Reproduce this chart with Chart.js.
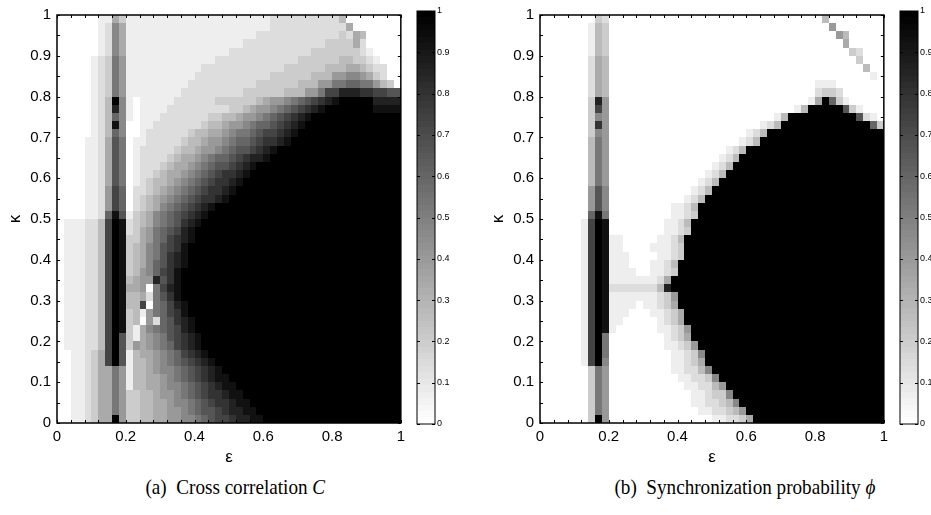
<!DOCTYPE html>
<html><head><meta charset="utf-8">
<script src="https://cdn.jsdelivr.net/npm/chart.js@4.4.0/dist/chart.umd.min.js"></script>
<style>
body{margin:0;background:#fff;width:931px;height:515px;overflow:hidden;position:relative;}
canvas{position:absolute;}
.cap{position:absolute;top:474px;text-align:center;font-family:'Liberation Serif','DejaVu Serif',serif;font-size:22px;color:#000;white-space:nowrap;}
.cap span{display:inline-block;transform:scaleX(0.87);}
</style></head>
<body>
<canvas id="hmA" width="410" height="470" style="left:0px;top:0px"></canvas>
<canvas id="cbA" width="50" height="440" style="left:412px;top:0px"></canvas>
<canvas id="hmB" width="410" height="470" style="left:483px;top:0px"></canvas>
<canvas id="cbB" width="50" height="440" style="left:895px;top:0px"></canvas>
<div class="cap" style="left:0px;width:470px"><span>(a)&nbsp; Cross correlation <i>C</i></span></div>
<div class="cap" style="left:560px;width:370px"><span>(b)&nbsp; Synchronization probability <i>ϕ</i></span></div>
<script>
// ---------- data ----------
const epsCenters = [0.01,0.03,0.05,0.07,0.09,0.11,0.13,0.15,0.17,0.19,0.21,0.23,0.25,0.27,0.29,0.31,0.33,0.35,0.37,0.39,0.41,0.43,0.45,0.47,0.49,0.51,0.53,0.55,0.57,0.59,0.61,0.63,0.65,0.67,0.69,0.71,0.73,0.75,0.77,0.79,0.81,0.83,0.85,0.87,0.89,0.91,0.93,0.95,0.97,0.99];
const kappaCenters = [0.99,0.97,0.95,0.93,0.91,0.89,0.87,0.85,0.83,0.81,0.79,0.77,0.75,0.73,0.71,0.69,0.67,0.65,0.63,0.61,0.59,0.57,0.55,0.53,0.51,0.49,0.47,0.45,0.43,0.41,0.39,0.37,0.35,0.33,0.31,0.29,0.27,0.25,0.23,0.21,0.19,0.17,0.15,0.13,0.11,0.09,0.07,0.05,0.03,0.01];

// gray levels 0..f (value = level/15), run-length coded: "c*n" = n copies, "c*" = fill row
const crossCorrelationRows = [
"0000001 153 1 1*20 2*10 4 0*",
"0000001 275 1 1*20 2*10 2 5 0*",
"0000001 275 1 1*18 2*12 3254 0*",
"0000001 275 1 1*16 2*12 3333 52 0*",
"0000001 275 1 1*14 2*12 3*7 21 0*",
"0000012 386 1 1*12 2*12 3*6 44 3321 0*",
"0000012 386 1 1*10 2*12 3*6 444 55 4322 00",
"0000012 386 1 1*9 2*11 3*6 444 66 77 6532 00",
"0000012 386 1 1*8 2*10 3*6 444 66 88 99 886430",
"0000012 386 1 1*7 2*9 3*6 444 66 8 bb ddd cc bb aa",
"0000012 4f7 1 0 1*5 2*6 3*6 4566789abcde f*5 d*4",
"0000012 4d7 1 0 1*4 2*9 33 4566789abcde f*7 e*4",
"0000012 497 1 0 1*3 2*7 33 44566789abcde f*",
"0000012 4e7 0 0 11 2*7 3 4456678 99abcde f*",
"0000012 497 0 0 1 2*6 3 44556788 9abbcde f*",
"0000112 5a8 0 11 2*5 3 4456678 99abccde f*",
"0000112 5a8 0 1 2*5 3 4456678 9aabcde f*",
"0000112 5a8 0 1 2*4 3 455678 99abcdde f*",
"0000112 5a8 0 1 222 3 455678 9aabcde f*",
"0000112 5a8 0 1 22 3 455678 9abccde f*",
"0000112 5a8 0 1 2 3 445678 9abccde f*",
"0000112 6b9 0 22 3 45678 9abccde f*",
"0000112 6b9 0 2 3 45678 9abccde f*",
"0000112 6b9 0 2 3 4578 9abcde f*",
"0000112 9ea 1 3 4578 9abcde f*",
"0111224 bfe 2 3 4578 9acde f*",
"0111224 bfe 2 3 5689abde f*",
"0111224 bfe 3 3 5689bcde f*",
"0111224 bfe 3 4 578abce f*",
"0111224 bfe 3 4 578acde f*",
"0111224 bfe 3 4 579acde f*",
"0111224 bfe 3 4 679bce f*",
"0111224 bfe 4 5 66dace f*",
"0111224 bfe 5 5 608bde f*",
"0111224 bfe 4 4 528ace f*",
"0111224 bfe 4 4 b089bde f*",
"0111224 bfe 3 4 1689bce f*",
"0111224 bfe 3 4 0629acde f*",
"0111224 bfe 3 1 5789abde f*",
"0111224 bfa 3 1 5678abcde f*",
"0111224 bfa 3 6 56789bcde f*",
"0011235 bfa 1 4 556789bcde f*",
"0011235 bfa 1 4 456789abcde f*",
"0011235 586 1 4 4567789abcde f*",
"0011235 586 1 4 4556789abcdee f*",
"0011235 586 1 4 45567789abcdee f*",
"0011235 586 3 3 445667 89abccdee f*",
"0011235 586 3 3 4455677 89abccdee f*",
"0011235 586 3 3 4455667 89aabcddee f*",
"0011235 5f6 3 3 44556677 89abbcddee f*"
];

const syncProbabilityRows = [
"0*8 32 0*31 4 0*",
"0*7 143 0*32 6 0*",
"0*7 143 0*33 64 0*",
"0*7 143 0*34 5 0*",
"0*7 143 0*35 32 0*",
"0*7 254 0*36 3 0*",
"0*7 254 0*37 4 0*",
"0*7 254 0*38 1 0*",
"0*7 254 0*30 111 0*",
"0*7 254 0*30 2332 0*",
"0*7 3d6 0*29 15f931 0*",
"0*7 3b6 0*27 14 f*5 a31 0*",
"0*7 376 0*24 14 f*10 a210",
"0*7 3c6 0*22 124 f*13 93",
"0*7 376 0*20 124 f*",
"0*7 486 0*19 124 f*",
"0*7 486 0*17 124 f*",
"0*7 486 0*16 124 f*",
"0*7 486 0*15 124 f*",
"0*7 486 0*14 124 f*",
"0*7 486 0*13 124 f*",
"0*7 6a7 0*12 124 f*",
"0*7 6a7 0*11 124 f*",
"0*7 6a7 0*9 1124 f*",
"0*7 9e8 0*9 1123 f*",
"0*6 1bfe 0*8 1124 f*",
"0*6 1bfe 0*8 1123 f*",
"0*6 1bfe 11 0*5 1124 f*",
"0*6 1bfe 11 0*4 11123 f*",
"0*6 1bfe 111 0*4 1123 f*",
"0*6 1bfe 111 0*3 1124 f*",
"0*6 1bfe 1111 0*2 1123 f*",
"0*6 1bfe 11111 1125 f*",
"0*6 1bfe 2222222 4d f*",
"0*6 1bfe 11111 11236 f*",
"0*6 1bfe 11110 11235 f*",
"0*6 1bfe 111 000 11235 f*",
"0*6 1bfe 11 0*5 1235 f*",
"0*6 1bfe 1 0*6 11236 f*",
"0*6 1bf8 0*8 1235 f*",
"0*6 1bf8 0*8 11236 f*",
"0*6 1bf8 0*9 11237 f*",
"0*6 1bf7 0*9 11235 f*",
"0*7 386 0*9 112247 f*",
"0*7 386 0*10 112237 f*",
"0*7 386 0*11 112246 f*",
"0*7 386 0*12 112337 f*",
"0*7 386 0*12 1122347 f*",
"0*7 386 0*13 1122346 f*",
"0*7 3f6 0*15 112235 f*"
];

const xTickValues = [0, 0.2, 0.4, 0.6, 0.8, 1];
const xTickLabels = ['0', '0.2', '0.4', '0.6', '0.8', '1'];
const yTickValues = [0, 0.1, 0.2, 0.3, 0.4, 0.5, 0.6, 0.7, 0.8, 0.9, 1];
const yTickLabels = ['0', '0.1', '0.2', '0.3', '0.4', '0.5', '0.6', '0.7', '0.8', '0.9', '1'];
const xMinorTicks = [0,0.04,0.08,0.12,0.16,0.2,0.24,0.28,0.32,0.36,0.4,0.44,0.48,0.52,0.56,0.6,0.64,0.68,0.72,0.76,0.8,0.84,0.88,0.92,0.96,1];
const yMinorTicks = [0,0.05,0.1,0.15,0.2,0.25,0.3,0.35,0.4,0.45,0.5,0.55,0.6,0.65,0.7,0.75,0.8,0.85,0.9,0.95,1];
const colorbarTickValues = [0, 0.1, 0.2, 0.3, 0.4, 0.5, 0.6, 0.7, 0.8, 0.9, 1];
const colorbarTickLabels = ['0', '0.1', '0.2', '0.3', '0.4', '0.5', '0.6', '0.7', '0.8', '0.9', '1'];
const colorbarLevelCount = 64;

// ---------- helpers ----------
const NCOL = epsCenters.length;
function decodeRow(str) {
  const out = [];
  for (const tok of str.trim().split(/\s+/)) {
    const m = tok.match(/^([0-9a-f])\*(\d*)$/);
    if (m) {
      const n = m[2] === '' ? NCOL - out.length : parseInt(m[2], 10);
      for (let i = 0; i < n; i++) out.push(parseInt(m[1], 16));
    } else {
      for (const ch of tok) out.push(parseInt(ch, 16));
    }
  }
  if (out.length !== NCOL) console.warn('row length', out.length, str);
  while (out.length < NCOL) out.push(0);
  return out.slice(0, NCOL).map(l => l / 15);
}
function buildCells(rows) {
  const cells = [];
  rows.forEach((r, i) => {
    const vals = decodeRow(r);
    const k = kappaCenters[i];
    const kPrev = kappaCenters[i - 1] !== undefined ? kappaCenters[i - 1] : null;
    const kNext = kappaCenters[i + 1] !== undefined ? kappaCenters[i + 1] : null;
    const h = kNext !== null ? Math.abs(k - kNext) : Math.abs(kPrev - k);
    vals.forEach((v, j) => {
      const e = epsCenters[j];
      const eNext = epsCenters[j + 1] !== undefined ? epsCenters[j + 1] : null;
      const w = eNext !== null ? eNext - e : e - epsCenters[j - 1];
      cells.push({ x: e, y: k, w: w, h: h, v: v });
    });
  });
  return cells;
}
const gray = v => { const g = Math.round(255 * (1 - Math.max(0, Math.min(1, v)))); return `rgb(${g},${g},${g})`; };

const heatmapPlugin = {
  id: 'heatmapCells',
  beforeDatasetsDraw(chart) {
    const { ctx, chartArea, scales } = chart;
    const xs = scales.x, ys = scales.y;
    ctx.save();
    ctx.beginPath();
    ctx.rect(chartArea.left, chartArea.top, chartArea.right - chartArea.left, chartArea.bottom - chartArea.top);
    ctx.clip();
    for (const c of chart.data.datasets[0].data) {
      const l = Math.round(xs.getPixelForValue(c.x - c.w / 2));
      const r = Math.round(xs.getPixelForValue(c.x + c.w / 2));
      const t = Math.round(ys.getPixelForValue(c.y + c.h / 2));
      const b = Math.round(ys.getPixelForValue(c.y - c.h / 2));
      ctx.fillStyle = gray(c.v);
      ctx.fillRect(l, t, r - l, b - t);
    }
    ctx.restore();
  }
};

const framePlugin = {
  id: 'frameTicks',
  afterDraw(chart) {
    const { ctx, chartArea: { left, right, top, bottom }, scales } = chart;
    const xs = scales.x, ys = scales.y;
    const xt = chart.options.plugins.frameTicks.xTicks;
    const yt = chart.options.plugins.frameTicks.yTicks;
    const len = chart.options.plugins.frameTicks.len;
    ctx.save();
    ctx.strokeStyle = '#000';
    ctx.lineWidth = 1;
    ctx.beginPath();
    if (xt) for (const v of xt) {
      const px = Math.round(xs.getPixelForValue(v)) + 0.5;
      ctx.moveTo(px, bottom); ctx.lineTo(px, bottom - len);
      ctx.moveTo(px, top); ctx.lineTo(px, top + len);
    }
    for (const v of yt) {
      const py = Math.round(ys.getPixelForValue(v)) + 0.5;
      ctx.moveTo(left, py); ctx.lineTo(left + len, py);
      ctx.moveTo(right, py); ctx.lineTo(right - len, py);
    }
    ctx.stroke();
    ctx.lineWidth = chart.options.plugins.frameTicks.frameWidth;
    ctx.strokeRect(left, top, right - left, bottom - top);
    ctx.restore();
  }
};

Chart.defaults.font.family = "'Liberation Sans', Arial, 'DejaVu Sans', sans-serif";
Chart.defaults.color = '#000';

function makeHeatmap(id, rows) {
  return new Chart(document.getElementById(id), {
    type: 'scatter',
    data: { datasets: [{ data: buildCells(rows), pointRadius: 0, pointHoverRadius: 0, showLine: false }] },
    options: {
      responsive: false, animation: false, events: [],
      layout: { padding: { left: 0, top: 11, right: 5, bottom: 0 } },
      plugins: { legend: { display: false }, tooltip: { enabled: false },
        frameTicks: { xTicks: xMinorTicks, yTicks: yMinorTicks, len: 3, frameWidth: 1.5 } },
      scales: {
        x: {
          type: 'linear', min: 0, max: 1,
          grid: { display: false, drawTicks: false }, border: { display: false },
          afterBuildTicks: s => { s.ticks = xTickValues.map(v => ({ value: v })); },
          ticks: { autoSkip: false, maxRotation: 0, padding: 5, font: { size: 15 }, color: '#000',
                   callback: (v, i) => xTickLabels[i] },
          title: { display: true, text: 'ε', font: { size: 17 }, color: '#000', padding: { top: 0, bottom: 2 } },
          afterFit: s => { s.height = 47; }
        },
        y: {
          type: 'linear', min: 0, max: 1,
          grid: { display: false, drawTicks: false }, border: { display: false },
          afterBuildTicks: s => { s.ticks = yTickValues.map(v => ({ value: v })); },
          ticks: { autoSkip: false, padding: 6, font: { size: 15 }, color: '#000',
                   callback: (v, i) => yTickLabels[i] },
          title: { display: true, text: 'κ', font: { size: 17 }, color: '#000', padding: { top: 5, bottom: 0 } },
          afterFit: s => { s.width = 57; }
        }
      }
    },
    plugins: [heatmapPlugin, framePlugin]
  });
}

function makeColorbar(id) {
  const bands = [];
  for (let i = 0; i < colorbarLevelCount; i++) {
    bands.push({ x: 0.5, w: 1, y: (i + 0.5) / colorbarLevelCount, h: 1 / colorbarLevelCount, v: i / (colorbarLevelCount - 1) });
  }
  return new Chart(document.getElementById(id), {
    type: 'scatter',
    data: { datasets: [{ data: bands, pointRadius: 0, pointHoverRadius: 0 }] },
    options: {
      responsive: false, animation: false, events: [],
      layout: { padding: { left: 5, top: 11, right: 0, bottom: 16 } },
      plugins: { legend: { display: false }, tooltip: { enabled: false },
        frameTicks: { xTicks: null, yTicks: colorbarTickValues, len: 3, frameWidth: 1 } },
      scales: {
        x: { type: 'linear', min: 0, max: 1, display: false },
        y: {
          type: 'linear', min: 0, max: 1, position: 'right',
          grid: { display: false, drawTicks: false }, border: { display: false },
          afterBuildTicks: s => { s.ticks = colorbarTickValues.map(v => ({ value: v })); },
          ticks: { autoSkip: false, padding: 2, font: { size: 9 }, color: '#000',
                   callback: (v, i) => colorbarTickLabels[i] },
          afterFit: s => { s.width = 27; }
        }
      }
    },
    plugins: [heatmapPlugin, framePlugin]
  });
}

makeHeatmap('hmA', crossCorrelationRows);
makeColorbar('cbA');
makeHeatmap('hmB', syncProbabilityRows);
makeColorbar('cbB');
</script>
</body></html>
